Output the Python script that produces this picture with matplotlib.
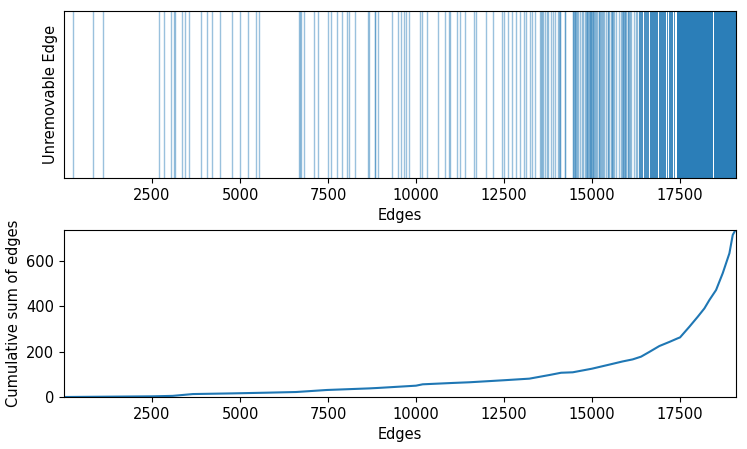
import matplotlib
matplotlib.use("Agg")
import matplotlib.pyplot as plt

# total number of edges (x extent)
n_edges = 19090

# individually visible unremovable edges (sparse part of the top strip)
sparse_edges = [
    265, 823, 1106, 2694, 2846, 3045, 3120, 3150, 3357, 3431, 3544, 3904,
    4065, 4196, 4434, 4763, 5001, 5216, 5443, 5548, 6670, 6700, 6730, 6815,
    7088, 7221, 7496, 7598, 7751, 7901, 8035, 8100, 8270, 8647, 8675, 8828,
    8843, 8922, 9318, 9489, 9582, 9648, 9716, 9810, 10122, 10160, 10302,
    10634, 10832, 10946, 10975, 11165, 11259, 11382, 11647, 11705, 11989,
    12177, 12432, 12489, 12622, 12716, 12841, 12955, 13068, 13125, 13239,
    13284, 13370, 13531, 13560, 13590, 13617, 13665, 13710, 13759, 13835,
    13881, 13938, 14043, 14071, 14091, 14100, 14233, 14242, 14450, 14470,
    14490, 14510, 14530, 14550, 14570, 14600, 14668, 14716, 14733, 14810,
    14830, 14850, 14870, 14890, 14910, 14930, 14945, 14960, 14980, 15000,
    15020, 15040, 15057, 15094, 15110, 15131, 15188, 15210, 15228, 15256,
    15280, 15302, 15330, 15397, 15444, 15465, 15492, 15540, 15560, 15580,
    15605, 15634, 15682, 15776, 15824, 15845, 15870, 15890, 15910, 15930,
    15950, 15966, 16012, 16035, 16060, 16085, 16109, 16203, 16250, 16290,
]

# blocks where the edges are so dense they merge into a band
dense_start = [16345, 16470, 16650, 16900, 17120, 17180, 17320, 17400, 18470]
dense_end = [16440, 16620, 16870, 17090, 17150, 17290, 17360, 18440, 19090]
dense_alpha = [0.8, 0.8, 0.85, 0.85, 0.8, 0.85, 0.8, 0.95, 0.95]

# cumulative sum curve
cum_x = [1, 2500, 3090, 3660, 4790, 5738, 6590, 7470, 8674, 8920, 10000,
         10189, 11042, 11515, 12500, 13220, 13788, 14119, 14451, 15000,
         15493, 15871, 16155, 16392, 16629, 16913, 17197, 17434, 17500,
         17765, 18002, 18192, 18334, 18523, 18712, 18902, 18997, 19063, 19090]
cum_y = [0, 3, 5, 13, 16, 19, 22, 31, 38, 40, 50, 56, 62, 65, 74, 81, 97,
         107, 109, 125, 143, 157, 166, 178, 199, 225, 243, 259, 263, 310,
         354, 391, 428, 472, 546, 634, 715, 734, 737]

xticks = [2500, 5000, 7500, 10000, 12500, 15000, 17500]
fs = 10.5

fig = plt.figure(figsize=(7.47, 4.49), dpi=100)
ax1 = fig.add_axes([0.0857, 0.6036, 0.8996, 0.3719])
ax2 = fig.add_axes([0.0857, 0.1158, 0.8996, 0.3720])

for e in sparse_edges:
    ax1.axvline(e, color="#1f77b4", alpha=0.45, lw=1)
for s, e, a in zip(dense_start, dense_end, dense_alpha):
    ax1.axvspan(s, e, color="#1f77b4", alpha=a, lw=0)
ax1.set_xlim(1, n_edges)
ax1.set_ylim(0, 1)
ax1.set_yticks([])
ax1.set_xticks(xticks)
ax1.set_xlabel("Edges", fontsize=fs)
ax1.set_ylabel("Unremovable Edge", fontsize=fs)

ax2.plot(cum_x, cum_y, color="#1f77b4", lw=1.5)
ax2.set_xlim(1, n_edges)
ax2.set_ylim(0, max(cum_y))
ax2.set_xticks(xticks)
ax2.set_yticks([0, 200, 400, 600])
ax2.set_xlabel("Edges", fontsize=fs)
ax2.set_ylabel("Cumulative sum of edges", fontsize=fs)

for ax in (ax1, ax2):
    ax.tick_params(labelsize=fs)

fig.savefig("out.png", dpi=100)
